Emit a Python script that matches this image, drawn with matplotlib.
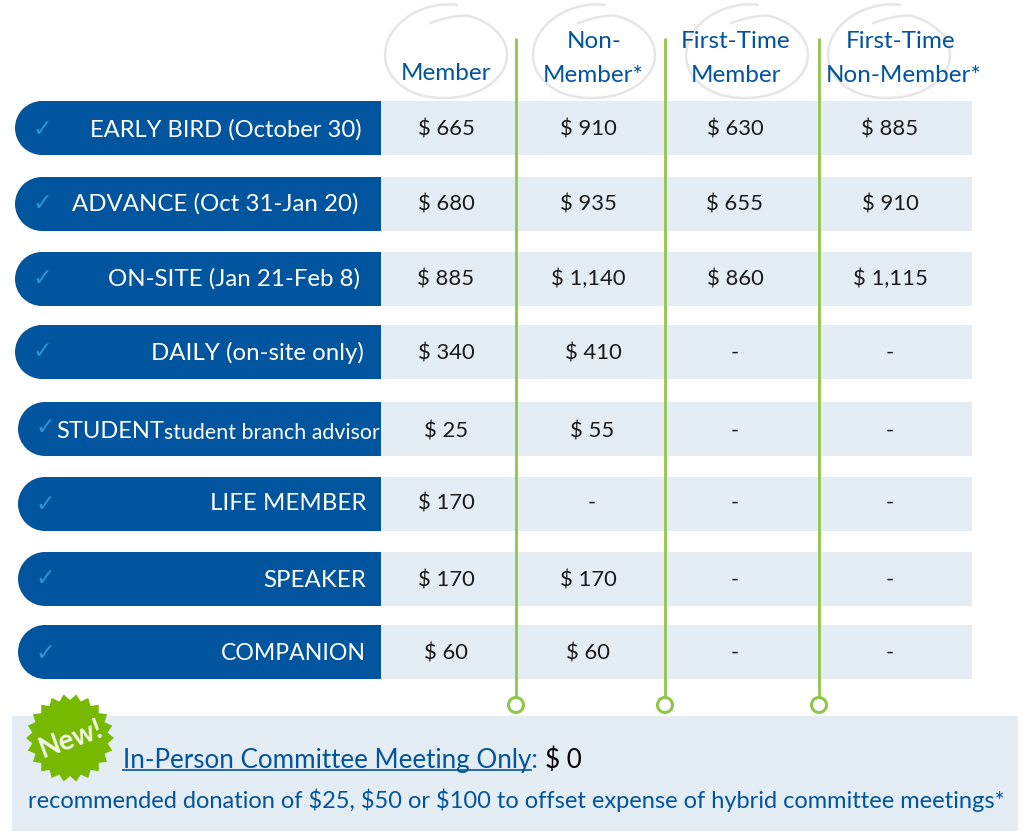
# Registration fee table
import matplotlib
matplotlib.use('Agg')
import matplotlib.pyplot as plt
from matplotlib.patches import Circle, Rectangle, Polygon
import numpy as np

rates = ['EARLY BIRD (October 30)', 'ADVANCE (Oct 31-Jan 20)', 'ON-SITE (Jan 21-Feb 8)',
         'DAILY (on-site only)', 'STUDENT', 'LIFE MEMBER', 'SPEAKER', 'COMPANION']
member = ['$ 665', '$ 680', '$ 885', '$ 340', '$ 25', '$ 170', '$ 170', '$ 60']
non_member = ['$ 910', '$ 935', '$ 1,140', '$ 410', '$ 55', '-', '$ 170', '$ 60']
first_member = ['$ 630', '$ 655', '$ 860', '-', '-', '-', '-', '-']
first_non_member = ['$ 885', '$ 910', '$ 1,115', '-', '-', '-', '-', '-']

# layout, in reference pixels
row_top = [101, 177, 252, 325, 402, 477, 552, 625]
row_h = 54
row_left = [15, 15, 15, 15, 18, 18, 18, 18]
label_right = [362, 358, 360, 364, 0, 366, 366, 366]
label_size = [17.1, 17.3, 17.3, 17.3, 0, 17.3, 17.3, 16.6]
value_y = [130, 204, 279, 353, 431, 503, 580, 653]
tick_y = [129, 203, 278, 351, 427, 504, 578, 653]
col_x = [446, 592, 735, 890]
col2_x = [588, 588, 588, 593, 592, 592, 588, 588]
rule_x = [516, 665, 819]
scribble_x = [446, 594, 747, 889]

BLUE = '#01549e'
PALE = '#e4ecf4'
GREEN = '#8fc74a'
TICK = '#2f92d6'
GREY = '#e6e6e6'
INK = '#1a1a1a'

plt.rcParams['font.family'] = ['Lato', 'DejaVu Sans']

fig = plt.figure(figsize=(10.26, 8.38), dpi=100)
ax = fig.add_axes([0, 0, 1, 1])
ax.set_xlim(0, 1026)
ax.set_ylim(838, 0)
ax.axis('off')


def scribble(cx):
    # loose hand-drawn ring above a column
    a = np.linspace(-80, -465, 200)
    ry = np.interp(-a, [80, 270, 430, 465], [51, 43, 42, 33])
    rad = np.radians(a)
    ax.plot(cx + 61 * np.cos(rad), 55 + ry * np.sin(rad), color=GREY, lw=1.8, zorder=1)


for cx in scribble_x:
    scribble(cx)

for i, rate in enumerate(rates):
    top = row_top[i]
    left = row_left[i]
    mid = top + row_h / 2
    ax.add_patch(Rectangle((381, top), 591, row_h, fc=PALE, ec='none', zorder=1))
    ax.add_patch(Circle((left + row_h / 2, mid), row_h / 2, fc=BLUE, ec='none', zorder=2))
    ax.add_patch(Rectangle((left + row_h / 2, top), 381 - left - row_h / 2, row_h, fc=BLUE, ec='none', zorder=2))
    ax.text(left + 27, tick_y[i], '\u2713', color=TICK, fontsize=17, fontweight='bold', family='DejaVu Sans',
            ha='center', va='center', zorder=3)
    if rate == 'STUDENT':
        ax.text(56, value_y[i], rate, color='white', fontsize=17, ha='left', va='center', zorder=3)
        ax.text(164, value_y[i] + 2, 'student branch advisor', color='white', fontsize=15.4,
                ha='left', va='center', zorder=3)
    else:
        ax.text(label_right[i], value_y[i], rate, color='white', fontsize=label_size[i], ha='right',
                va='center', zorder=3)
    ax.text(col_x[0], value_y[i], member[i], color=INK, fontsize=15.8, ha='center', va='center', zorder=3)
    ax.text(col2_x[i], value_y[i], non_member[i], color=INK, fontsize=15.8, ha='center', va='center', zorder=3)
    ax.text(col_x[2], value_y[i], first_member[i], color=INK, fontsize=15.8, ha='center', va='center', zorder=3)
    ax.text(col_x[3], value_y[i], first_non_member[i], color=INK, fontsize=15.8, ha='center', va='center', zorder=3)

# column headers
for x, y, s in [(446, 74, 'Member'), (594, 42, 'Non-'), (593, 75, 'Member*'), (736, 42, 'First-Time'),
                (736, 75, 'Member'), (901, 42, 'First-Time'), (904, 75, 'Non-Member*')]:
    ax.text(x, y, s, color=BLUE, fontsize=17.5, ha='center', va='center', zorder=3)

# green dividers ending in open circles
for x in rule_x:
    ax.plot([x, x], [38, 697], color=GREEN, lw=2, solid_capstyle='butt', zorder=4)
    ax.add_patch(Circle((x, 705), 7.5, fc='white', ec=GREEN, lw=2.2, zorder=4))

# bottom panel
ax.add_patch(Rectangle((12, 716), 1006, 115, fc=PALE, ec='none', zorder=1))

n_spikes = 22
ang = np.linspace(0, 2 * np.pi, 2 * n_spikes, endpoint=False)
rad = np.where(np.arange(2 * n_spikes) % 2 == 0, 44, 38)
ax.add_patch(Polygon(np.column_stack([70 + rad * np.cos(ang), 738 + rad * np.sin(ang)]),
                     closed=True, fc='#76b900', ec='none', zorder=3))
ax.text(71, 739, 'New!', color='#f2f7e6', fontsize=20, fontweight='bold', rotation=20,
        ha='center', va='center', zorder=4)

ax.text(123, 760, 'In-Person Committee Meeting Only:', color=BLUE, fontsize=18.7, ha='left', va='center', zorder=3)
ax.plot([123, 531], [770, 770], color=BLUE, lw=1.2, zorder=3)
ax.text(545, 760, '$ 0', color='black', fontsize=18.7, ha='left', va='center', zorder=3)
ax.text(516, 800, 'recommended donation of $25, $50 or $100 to offset expense of hybrid committee meetings*',
        color=BLUE, fontsize=17, ha='center', va='center', zorder=3)

fig.savefig('out.png', dpi=100)
